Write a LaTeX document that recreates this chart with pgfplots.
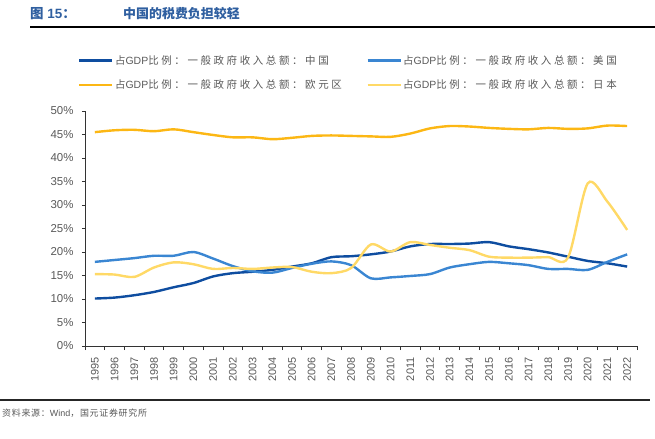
\documentclass[border=0pt]{standalone}
\usepackage{fontspec}
\setmainfont{Liberation Sans}
\newfontfamily\cjk[LetterSpace=25]{Noto Sans CJK SC}
\newfontfamily\cjks[LetterSpace=8]{Noto Sans CJK SC}
\newfontfamily\cjkt{Noto Sans CJK SC}
\usepackage{pgfplots}
\usepackage{pgfplotstable}
\pgfplotsset{compat=1.18}

\definecolor{cnblue}{RGB}{14,77,160}
\definecolor{usblue}{RGB}{58,134,210}
\definecolor{eugold}{RGB}{252,183,20}
\definecolor{jpyellow}{RGB}{255,217,102}
\definecolor{titleblue}{RGB}{47,95,160}
\definecolor{txtgray}{RGB}{89,89,89}

% share of GDP (%), 1995-2022
\pgfplotstableread{
x  cn    us    eu    jp
0  10.1  17.9  45.5  15.3
1  10.3  18.3  45.9  15.2
2  10.8  18.7  46.0  14.7
3  11.5  19.2  45.7  16.7
4  12.5  19.2  46.1  17.8
5  13.4  20.0  45.5  17.4
6  14.8  18.6  44.9  16.4
7  15.5  17.0  44.4  16.6
8  15.8  15.9  44.4  16.4
9  16.2  15.6  44.0  16.7
10 16.9  16.6  44.3  16.8
11 17.6  17.5  44.7  15.8
12 18.9  18.0  44.8  15.5
13 19.1  17.2  44.7  16.6
14 19.5  14.4  44.6  21.6
15 20.1  14.6  44.5  20.1
16 21.2  14.9  45.2  22.1
17 21.7  15.3  46.3  21.5
18 21.7  16.7  46.8  20.9
19 21.8  17.4  46.7  20.4
20 22.1  17.9  46.4  19.0
21 21.2  17.6  46.2  18.8
22 20.6  17.2  46.1  18.8
23 19.9  16.4  46.4  18.9
24 19.0  16.4  46.2  18.8
25 18.1  16.2  46.3  34.6
26 17.6  17.9  46.9  30.7
27 16.9  19.5  46.8  24.7
}\data

\begin{document}
\begin{tikzpicture}
\useasboundingbox (0,0) rectangle (655bp,-439bp);

% title and rules
\node[anchor=west, inner sep=0, text=titleblue, font=\fontsize{13.5}{15}\selectfont\bfseries]
  at (30bp,-14bp) {{\cjkt 图} 15{\cjkt ：}};
\node[anchor=west, inner sep=0, text=titleblue, font=\fontsize{13}{15}\selectfont\bfseries]
  at (123bp,-14bp) {\cjkt 中国的税费负担较轻};
\draw[black, line width=1.6bp] (30bp,-27bp) -- (655bp,-27bp);
\draw[black!85, line width=1.4bp] (0bp,-400bp) -- (650bp,-400bp);
\node[anchor=west, inner sep=0, text=txtgray, font=\fontsize{9}{11}\selectfont]
  at (2bp,-413bp) {{\cjks 资料来源：}Wind{\cjks ，国元证券研究所}};

\begin{axis}[
  at={(85bp,-346bp)}, anchor=south west,
  scale only axis, width=552bp, height=235bp,
  xmin=-0.5, xmax=27.5, ymin=0, ymax=50,
  axis lines=left, axis line style={-, black!80, line width=0.8bp},
  xtick={0,...,27},
  xticklabels={1995,1996,1997,1998,1999,2000,2001,2002,2003,2004,2005,2006,2007,2008,2009,2010,2011,2012,2013,2014,2015,2016,2017,2018,2019,2020,2021,2022},
  x tick label style={rotate=90, anchor=east, text=txtgray, font=\fontsize{11}{12}\selectfont},
  major x tick style={draw=none},
  minor xtick={-0.5,0.5,...,27.5},
  minor tick length=4bp,
  minor x tick style={black!80, line width=0.8bp},
  ytick={0,5,...,50},
  yticklabels={0\%,5\%,10\%,15\%,20\%,25\%,30\%,35\%,40\%,45\%,50\%},
  y tick label style={text=txtgray, font=\fontsize{11.5}{12}\selectfont},
  major tick length=3bp,
  major y tick style={black!80, line width=0.8bp},
  tick align=outside,
  xticklabel shift=5bp, yticklabel shift=5bp,
  legend columns=2,
  legend cell align=left,
  legend style={at={(axis description cs:-0.018,1.252)}, anchor=north west,
    draw=none, fill=none, text=txtgray, font=\fontsize{10.5}{12}\selectfont,
    nodes={inner sep=1.5bp},
    /tikz/every even column/.append style={column sep=23bp},
    row sep=11bp},
  legend image code/.code={\draw[#1] (0bp,0bp) -- (33bp,0bp);},
  every axis plot/.append style={line width=2.4bp, smooth, tension=0.5, mark=none},
]
\addplot[cnblue] table[x=x, y=cn] {\data};
\addlegendentry{{\cjk 占}GDP{\cjk 比例：一般政府收入总额：中国}}
\addplot[usblue] table[x=x, y=us] {\data};
\addlegendentry{{\cjk 占}GDP{\cjk 比例：一般政府收入总额：美国}}
\addplot[eugold] table[x=x, y=eu] {\data};
\addlegendentry{{\cjk 占}GDP{\cjk 比例：一般政府收入总额：欧元区}}
\addplot[jpyellow] table[x=x, y=jp] {\data};
\addlegendentry{{\cjk 占}GDP{\cjk 比例：一般政府收入总额：日本}}
\end{axis}
\end{tikzpicture}
\end{document}
